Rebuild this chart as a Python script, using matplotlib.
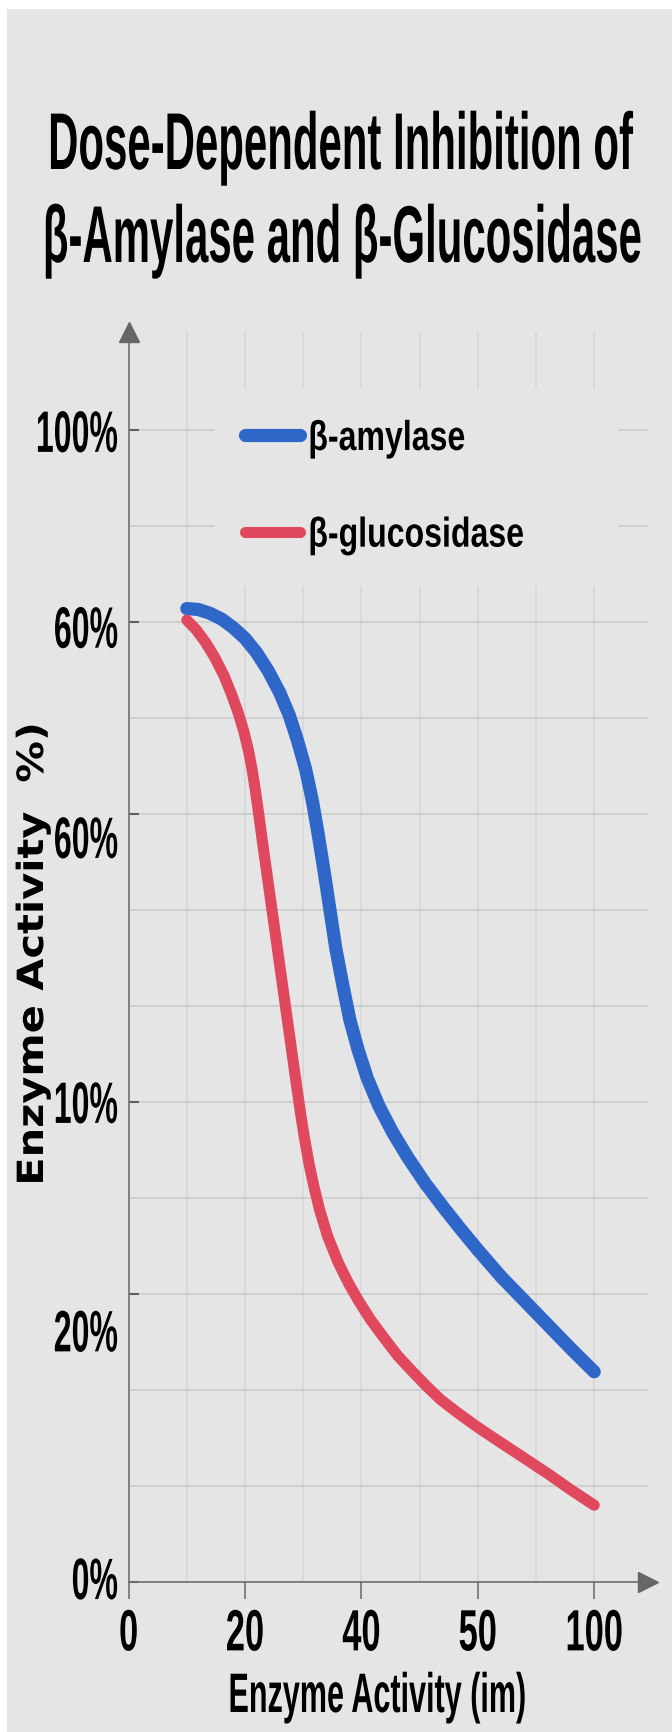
import matplotlib
matplotlib.use('Agg')
import matplotlib.pyplot as plt
from matplotlib.patheffects import AbstractPathEffect
from matplotlib.transforms import Affine2D
from matplotlib.patches import Rectangle

# axis positions: x in tick slots (0..4), y in grid rows (0..12)
x_ticks = [0, 1, 2, 3, 4]
x_labels = ['0', '20', '40', '50', '100']
y_ticks = [0, 3, 5, 8, 10, 12]
y_labels = ['0%', '20%', '10%', '60%', '60%', '100%']
y_label_drop = [0.0, 0.42, 0.04, 0.28, 0.09, 0.05]   # labels sit a bit below their ticks

amylase_x = [0.50, 0.60, 0.70, 0.80, 0.90, 1.00, 1.10, 1.20, 1.30, 1.38, 1.45, 1.52,
             1.58, 1.63, 1.68, 1.73, 1.78, 1.84, 1.90, 1.97, 2.05, 2.15, 2.27, 2.40,
             2.55, 2.70, 2.85, 3.00, 3.20, 3.40, 3.60, 3.80, 4.00]
amylase_y = [10.14, 10.13, 10.09, 10.03, 9.94, 9.83, 9.68, 9.49, 9.26, 9.03, 8.77, 8.47,
             8.13, 7.78, 7.40, 7.00, 6.60, 6.22, 5.86, 5.55, 5.25, 4.96, 4.68, 4.42,
             4.15, 3.91, 3.68, 3.46, 3.18, 2.93, 2.68, 2.43, 2.19]

glucosidase_x = [0.50, 0.58, 0.66, 0.74, 0.82, 0.88, 0.94, 0.99, 1.03, 1.06, 1.09, 1.12,
                 1.15, 1.18, 1.21, 1.24, 1.27, 1.30, 1.33, 1.36, 1.39, 1.42, 1.45, 1.48,
                 1.51, 1.55, 1.59, 1.64, 1.71, 1.80, 1.89, 1.98, 2.08, 2.19, 2.31, 2.44,
                 2.56, 2.68, 2.83, 2.99, 3.15, 3.30, 3.45, 3.60, 3.80, 4.00]
glucosidase_y = [10.02, 9.92, 9.79, 9.63, 9.44, 9.26, 9.06, 8.86, 8.66, 8.47, 8.24, 7.98,
                 7.71, 7.45, 7.19, 6.93, 6.67, 6.41, 6.15, 5.89, 5.63, 5.37, 5.11, 4.86,
                 4.63, 4.36, 4.13, 3.88, 3.60, 3.33, 3.11, 2.92, 2.73, 2.55, 2.36, 2.19,
                 2.04, 1.90, 1.76, 1.62, 1.49, 1.37, 1.25, 1.13, 0.96, 0.80]

BG = '#e5e5e5'
BLUE = '#2f67c9'
RED = '#e0485e'
W, H = 672, 1733


class Reshape(AbstractPathEffect):
    """Scale the glyph outlines of a text (condensed, tall look); the text stays real text."""

    def __init__(self, sx=1.0, sy=1.0, xanchor='center', yanchor='baseline'):
        super().__init__()
        self.sx, self.sy = sx, sy
        self.xanchor, self.yanchor = xanchor, yanchor

    def draw_path(self, renderer, gc, tpath, affine, rgbFace=None):
        v = tpath.vertices
        if len(v) == 0:
            return
        xs, ys = v[:, 0], v[:, 1]
        x0 = {'left': xs.min(), 'right': xs.max()}.get(self.xanchor, (xs.min() + xs.max()) / 2)
        y0 = {'baseline': 0.0, 'top': ys.max()}.get(self.yanchor, (ys.min() + ys.max()) / 2)
        shape = Affine2D().translate(-x0, -y0).scale(self.sx, self.sy).translate(x0, y0)
        renderer.draw_path(gc, tpath, shape + affine, rgbFace)


def fx(px):
    return px / W


def fy(px):
    return 1 - px / H


fig = plt.figure(figsize=(W / 100, H / 100), dpi=100, facecolor='white')
fig.patches.append(Rectangle((fx(7), 0), 1, fy(10), transform=fig.transFigure,
                             facecolor=BG, edgecolor='none', zorder=-10))

# axes box: x=0 at 128.6 px, y=0 at 1583 px
ax_left, ax_right, ax_top, ax_bottom = 128.6, 648, 333, 1583
ax = fig.add_axes([fx(ax_left), fy(ax_bottom), fx(ax_right - ax_left),
                   (ax_bottom - ax_top) / H])
ax.set_facecolor('none')
ax.set_xlim(0, (ax_right - ax_left) / 116.4)
ax.set_ylim(0, (ax_bottom - ax_top) / 96)

ax.plot(amylase_x, amylase_y, color=BLUE, lw=9.5, solid_capstyle='round',
        solid_joinstyle='round', label='β-amylase', zorder=3)
ax.plot(glucosidase_x, glucosidase_y, color=RED, lw=8, solid_capstyle='round',
        solid_joinstyle='round', label='β-glucosidase', zorder=3)

# grid
ax.set_xticks(x_ticks)
ax.set_xticks([0.5, 1.5, 2.5, 3.5], minor=True)
ax.set_yticks(y_ticks)
ax.set_yticks([1, 2, 4, 6, 7, 9, 11], minor=True)
ax.xaxis.grid(True, which='both', color='#d6d6d6', lw=1.1)
ax.yaxis.grid(True, which='both', color='#cbcbcb', lw=1.2)
ax.set_axisbelow(True)

for side in ['top', 'right']:
    ax.spines[side].set_visible(False)
for side in ['left', 'bottom']:
    ax.spines[side].set_color('#707070')
    ax.spines[side].set_linewidth(1.2)

ax.tick_params(which='minor', length=0)
ax.tick_params(axis='x', which='major', direction='out', length=12, width=1.2,
               color='#707070', pad=8)
ax.tick_params(axis='y', which='major', direction='in', length=7, width=1.5,
               color='#606060', labelleft=False)

ax.set_xticklabels(x_labels, fontsize=24.8, fontweight='bold', family='Liberation Sans')
for t in ax.get_xticklabels():
    t.set_path_effects([Reshape(sy=1.69, yanchor='top')])

for pos, lab, drop in zip(y_ticks, y_labels, y_label_drop):
    ax.text(-0.0204, pos - drop, lab, transform=ax.get_yaxis_transform(),
            ha='right', va='center', fontsize=23.1, fontweight='bold',
            family='Liberation Sans', path_effects=[Reshape(sy=1.82, yanchor='center')])

# axis arrows
ax.plot([0], [1], marker='^', ms=15, color='#666666', transform=ax.transAxes,
        clip_on=False, zorder=4)
ax.plot([1], [0], marker='>', ms=15, color='#666666', transform=ax.transAxes,
        clip_on=False, zorder=4)

leg = ax.legend(loc='upper left', bbox_to_anchor=(fx(215), fy(390)),
                bbox_transform=fig.transFigure, borderaxespad=0, borderpad=0.72,
                frameon=True, facecolor=BG, edgecolor='none', framealpha=1,
                fancybox=False, handlelength=1.32, handletextpad=0.2,
                labelspacing=1.36, prop={'family': 'Liberation Sans',
                                         'weight': 'bold', 'size': 30})
leg.set_zorder(5)
for t in leg.get_texts():
    t.set_path_effects([Reshape(sx=0.77, xanchor='left')])
for h in leg.legend_handles:
    h.set_solid_capstyle('round')

# title and axis titles
fig.text(fx(340), fy(170), 'Dose-Dependent Inhibition of', ha='center', va='baseline',
         fontsize=30.2, fontweight='bold', family='Liberation Sans',
         path_effects=[Reshape(sy=1.92)])
fig.text(fx(342), fy(263), 'β-Amylase and β-Glucosidase', ha='center', va='baseline',
         fontsize=30.2, fontweight='bold', family='Liberation Sans',
         path_effects=[Reshape(sy=1.92)])

fig.text(fx(377), fy(1713), 'Enzyme Activity (im)', ha='center', va='baseline',
         fontsize=22, fontweight='bold', family='Liberation Sans',
         path_effects=[Reshape(sy=1.82)])
fig.text(fx(33), fy(955), 'Enzyme Activity  %)', rotation=90, ha='center', va='center',
         fontsize=26, fontweight='bold', family='DejaVu Sans',
         path_effects=[Reshape(sx=1.15)])

fig.savefig('out.png', dpi=100, facecolor=fig.get_facecolor())
